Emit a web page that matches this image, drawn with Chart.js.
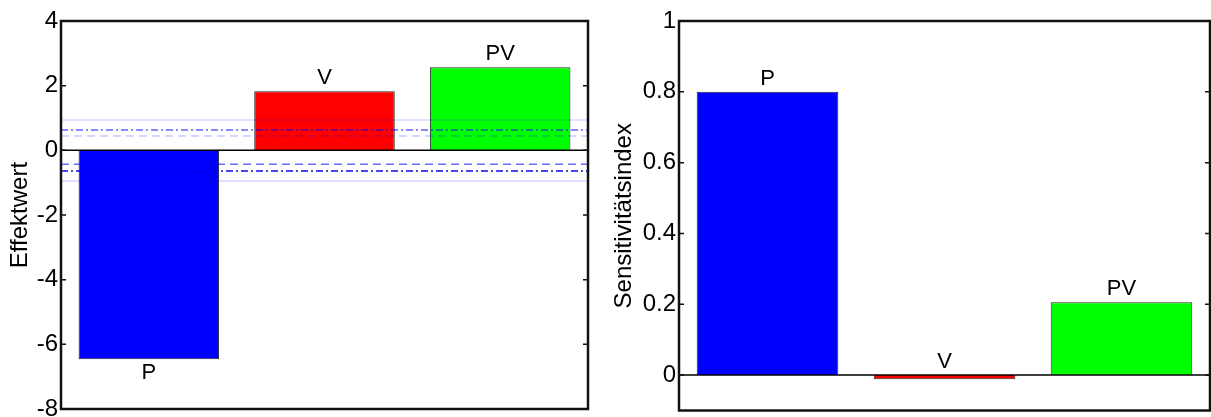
<!DOCTYPE html>
<html>
<head>
<meta charset="utf-8">
<script src="https://cdn.jsdelivr.net/npm/chart.js@4"></script>
<style>
  html, body { margin: 0; padding: 0; background: #fff; overflow: hidden; }
  canvas { position: absolute; top: 0; }
  #links { left: 0; }
  #rechts { left: 600px; }
</style>
</head>
<body>
<canvas id="links" width="600" height="440"></canvas>
<canvas id="rechts" width="611" height="440"></canvas>
<script>
// Daten
const faktoren = ["P", "V", "PV"];
const effekte = [-6.46, 1.83, 2.57];
const sensitivitaet = [0.8, -0.012, 0.206];
const farben = ["#0000ff", "#ff0000", "#00ff00"];
const ticksLinks = [-8, -6, -4, -2, 0, 2, 4];
const ticksRechts = [0, 0.2, 0.4, 0.6, 0.8, 1];

// Grenzlinien im Effektdiagramm
const grenzWerte = [0.94, 0.63, 0.44, -0.43, -0.64, -0.95];
const grenzFarben = ["rgba(0,0,255,0.15)", "rgba(0,0,255,0.62)", "rgba(0,0,255,0.22)",
                     "rgba(0,0,255,0.58)", "rgba(0,0,230,0.95)", "rgba(0,0,255,0.17)"];
const grenzStriche = [[], [7, 3, 2, 3], [8, 5], [8, 5], [7, 3, 2, 3], []];

const schrift = "'Liberation Sans', Arial, sans-serif";

// Rahmen, Nulllinie, Ticks nach innen, Beschriftung der Balken
const rahmen = {
    id: "rahmen",
    afterDatasetsDraw(chart) {
        const ctx = chart.ctx;
        const a = chart.chartArea;
        const y = chart.scales.y;
        ctx.save();
        if (chart.options.plugins.rahmen.linien) {
            ctx.lineWidth = 1.5;
            grenzWerte.forEach((w, i) => {
                const py = y.getPixelForValue(w);
                ctx.strokeStyle = grenzFarben[i];
                ctx.setLineDash(grenzStriche[i]);
                ctx.beginPath();
                ctx.moveTo(a.left, py);
                ctx.lineTo(a.right, py);
                ctx.stroke();
            });
            ctx.setLineDash([]);
        }
        // Nulllinie
        const y0 = y.getPixelForValue(0);
        ctx.strokeStyle = "#000";
        ctx.lineWidth = 1.5;
        ctx.beginPath();
        ctx.moveTo(a.left, y0);
        ctx.lineTo(a.right, y0);
        ctx.stroke();
        // Rahmen
        ctx.lineWidth = 2.5;
        ctx.strokeStyle = "#111";
        ctx.strokeRect(a.left, a.top, a.right - a.left, a.bottom - a.top);
        // Ticks
        ctx.lineWidth = 1.5;
        y.ticks.forEach(t => {
            const py = y.getPixelForValue(t.value);
            ctx.beginPath();
            ctx.moveTo(a.left, py);
            ctx.lineTo(a.left + 5, py);
            ctx.moveTo(a.right, py);
            ctx.lineTo(a.right - 5, py);
            ctx.stroke();
        });
        // Balkenbeschriftung
        ctx.fillStyle = "#000";
        ctx.font = "22px " + schrift;
        ctx.textAlign = "center";
        ctx.textBaseline = "middle";
        const meta = chart.getDatasetMeta(0);
        const werte = chart.data.datasets[0].data;
        meta.data.forEach((bar, i) => {
            const hoehe = Math.abs(bar.base - bar.y);
            let ty;
            if (werte[i] < 0 && hoehe > 20) ty = bar.y + 14;
            else ty = Math.min(bar.y, bar.base) - 13;
            ctx.fillText(chart.data.labels[i], bar.x, ty);
        });
        ctx.restore();
    }
};

function diagramm(id, werte, min, max, tickWerte, titel, achsBreite, titelAbstand, polster, linien) {
    return new Chart(document.getElementById(id), {
        type: "bar",
        data: {
            labels: faktoren,
            datasets: [{
                data: werte,
                backgroundColor: farben,
                borderColor: "rgba(0,0,0,0.85)",
                borderWidth: 1,
                barPercentage: 0.8,
                categoryPercentage: 1
            }]
        },
        options: {
            responsive: false,
            animation: false,
            layout: { padding: polster },
            plugins: {
                legend: { display: false },
                tooltip: { enabled: false },
                rahmen: { linien: linien }
            },
            scales: {
                x: { display: false },
                y: {
                    min: min,
                    max: max,
                    afterBuildTicks: s => { s.ticks = tickWerte.map(v => ({ value: v })); },
                    afterFit: s => { s.width = achsBreite; },
                    grid: { display: false, drawTicks: false },
                    border: { display: false },
                    ticks: {
                        color: "#000",
                        padding: 3,
                        font: { family: schrift, size: 24 },
                        callback: v => String(v)
                    },
                    title: {
                        display: true,
                        text: titel,
                        color: "#000",
                        font: { family: schrift, size: 24 },
                        padding: { top: titelAbstand, bottom: 0 }
                    }
                }
            }
        },
        plugins: [rahmen]
    });
}

diagramm("links", effekte, -8, 4, ticksLinks, "Effektwert", 61, 6,
         { top: 21, right: 12, bottom: 31, left: 0 }, true);
diagramm("rechts", sensitivitaet, -0.1, 1, ticksRechts, "Sensitivitätsindex", 79, 10,
         { top: 21, right: 1, bottom: 29.5, left: 0 }, false);
</script>
</body>
</html>
